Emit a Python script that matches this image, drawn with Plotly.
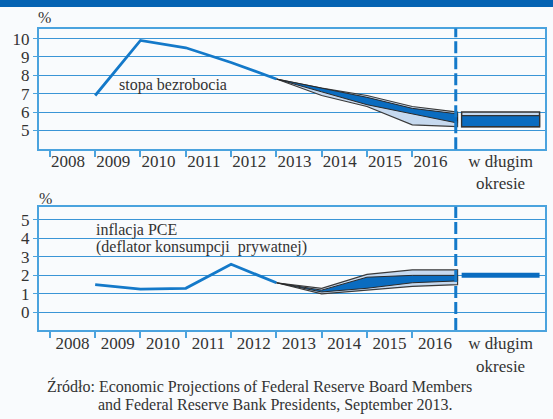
import plotly.graph_objects as go

W, H = 553, 419

# historical values (Q4 of each year)
years = [2008, 2009, 2010, 2011, 2012]
unemp = [6.9, 9.9, 9.5, 8.7, 7.8]
pce = [1.5, 1.25, 1.3, 2.6, 1.6]

# FOMC projections, September 2013 (starting from last actual value)
proj_years = [2012, 2013, 2014, 2015, 2016]
unemp_range_hi = [7.8, 7.3, 6.9, 6.3, 6.0]
unemp_range_lo = [7.8, 6.9, 6.3, 5.3, 5.2]
unemp_ct_hi = [7.8, 7.3, 6.8, 6.2, 5.9]
unemp_ct_lo = [7.8, 7.1, 6.4, 5.9, 5.4]

pce_range_hi = [1.6, 1.3, 2.05, 2.3, 2.3]
pce_range_lo = [1.6, 1.0, 1.2, 1.4, 1.5]
pce_ct_hi = [1.6, 1.2, 1.9, 2.0, 2.0]
pce_ct_lo = [1.6, 1.1, 1.3, 1.6, 1.7]

# longer run
unemp_lr_range = [5.2, 6.0]
unemp_lr_ct = [5.2, 5.8]
pce_lr = 2.0

label_years = ["2008", "2009", "2010", "2011", "2012", "2013", "2014", "2015", "2016"]
lr_label = "w długim<br>okresie"

BLUE = "#1479c9"
DARK = "#0a6cc0"
LIGHT = "#c6d9ef"
FRAME = "#4ba3de"
GRID = "#3a95d6"
TXT = "#333333"
FONT = "Liberation Serif, DejaVu Serif, serif"

LR_X, LR_W = 2016.95, 1.72


def px_x(p):
    return p / W


def px_y(p):
    return 1 - p / H


fig = go.Figure()


def panel(xa, ya, hist, r_hi, r_lo, c_hi, c_lo):
    fig.add_trace(go.Scatter(x=proj_years + proj_years[::-1], y=r_hi + r_lo[::-1],
                             fill="toself", fillcolor=LIGHT, mode="lines",
                             line=dict(color="#3a3a3a", width=1.2),
                             xaxis=xa, yaxis=ya, showlegend=False, hoverinfo="skip"))
    fig.add_trace(go.Scatter(x=proj_years + proj_years[::-1], y=c_hi + c_lo[::-1],
                             fill="toself", fillcolor=DARK, mode="lines",
                             line=dict(color="#2a2a2a", width=1),
                             xaxis=xa, yaxis=ya, showlegend=False, hoverinfo="skip"))
    fig.add_trace(go.Scatter(x=years, y=hist, mode="lines",
                             line=dict(color=BLUE, width=2.8),
                             xaxis=xa, yaxis=ya, showlegend=False))


panel("x", "y", unemp, unemp_range_hi, unemp_range_lo, unemp_ct_hi, unemp_ct_lo)
panel("x2", "y2", pce, pce_range_hi, pce_range_lo, pce_ct_hi, pce_ct_lo)

# longer run box (unemployment)
fig.add_trace(go.Bar(x=[LR_X], y=[unemp_lr_range[1] - unemp_lr_range[0]], base=[unemp_lr_range[0]],
                     width=LR_W, marker=dict(color=LIGHT, line=dict(color="#333333", width=1.5)),
                     xaxis="x", yaxis="y", showlegend=False))
fig.add_trace(go.Bar(x=[LR_X], y=[unemp_lr_ct[1] - unemp_lr_ct[0]], base=[unemp_lr_ct[0]],
                     width=LR_W, marker=dict(color=DARK, line=dict(color="#333333", width=1.2)),
                     xaxis="x", yaxis="y", showlegend=False))
# longer run (inflation)
fig.add_trace(go.Scatter(x=[LR_X - LR_W / 2, LR_X + LR_W / 2], y=[pce_lr, pce_lr], mode="lines",
                         line=dict(color=DARK, width=5), xaxis="x2", yaxis="y2", showlegend=False))

minor = dict(tickmode="array", tickvals=list(range(2007, 2016)), ticks="outside",
             ticklen=6, tickwidth=1.5, tickcolor=FRAME, showgrid=False)
xcommon = dict(range=[2006.76, 2017.93], domain=[px_x(39), px_x(545)], tickmode="array",
               ticks="", showline=True, mirror=True, linecolor=FRAME, linewidth=2,
               showgrid=False, zeroline=False, minor=minor,
               tickfont=dict(family=FONT, size=17, color=TXT))
ycommon = dict(ticks="outside", ticklen=4, tickcolor=FRAME, showline=True, mirror=True,
               linecolor=FRAME, linewidth=2, showgrid=True, gridcolor=GRID, gridwidth=1.2,
               zeroline=False, tickfont=dict(family=FONT, size=17, color=TXT))

fig.update_layout(
    width=W, height=H, margin=dict(l=0, r=0, t=0, b=0),
    paper_bgcolor="#f9fbfd", plot_bgcolor="#f9fbfd", barmode="overlay",
    xaxis=dict(xcommon, anchor="y", ticklabelstandoff=-5,
               tickvals=[int(y) - 0.6 for y in label_years] + [LR_X],
               ticktext=label_years + [lr_label]),
    yaxis=dict(ycommon, anchor="x", range=[3.97, 10.55], tickvals=[5, 6, 7, 8, 9, 10],
               domain=[px_y(149.3), px_y(28.5)]),
    xaxis2=dict(xcommon, anchor="y2", ticklabelstandoff=-3,
                tickvals=[int(y) - 0.5 for y in label_years] + [LR_X],
                ticktext=label_years + [lr_label]),
    yaxis2=dict(ycommon, anchor="x2", range=[-0.96, 5.72], tickvals=[0, 1, 2, 3, 4, 5],
                domain=[px_y(330), px_y(206.7)]),
)

# dashed separator between projections and the longer run
for xr, yr in [("x", "y domain"), ("x2", "y2 domain")]:
    fig.add_shape(type="line", xref=xr, yref=yr, x0=2015.96, x1=2015.96, y0=0, y1=1,
                  line=dict(color=BLUE, width=3, dash="12px,4px"), layer="above")

# header bar
fig.add_shape(type="rect", xref="paper", yref="paper", x0=0, x1=1, y0=px_y(7), y1=1,
              fillcolor="#0563b3", line_width=0)


def note(text, x, y, size=16, anchor="left"):
    fig.add_annotation(text=text, x=px_x(x), y=px_y(y), xref="paper", yref="paper",
                       xanchor=anchor, yanchor="middle", showarrow=False,
                       font=dict(family=FONT, size=size, color=TXT))


note("%", 44, 17.6, anchor="center")
note("%", 45, 198.3, anchor="center")
note("stopa bezrobocia", 117, 85)
note("inflacja PCE", 94, 230)
note("(deflator konsumpcji  prywatnej)", 94, 247.3)
note("Źródło: Economic Projections of Federal Reserve Board Members", 45, 386)
note("and Federal Reserve Bank Presidents, September 2013.", 96, 405)

fig.write_html("out.html", config={"displayModeBar": False},
               post_script="document.body.style.margin='0';")
